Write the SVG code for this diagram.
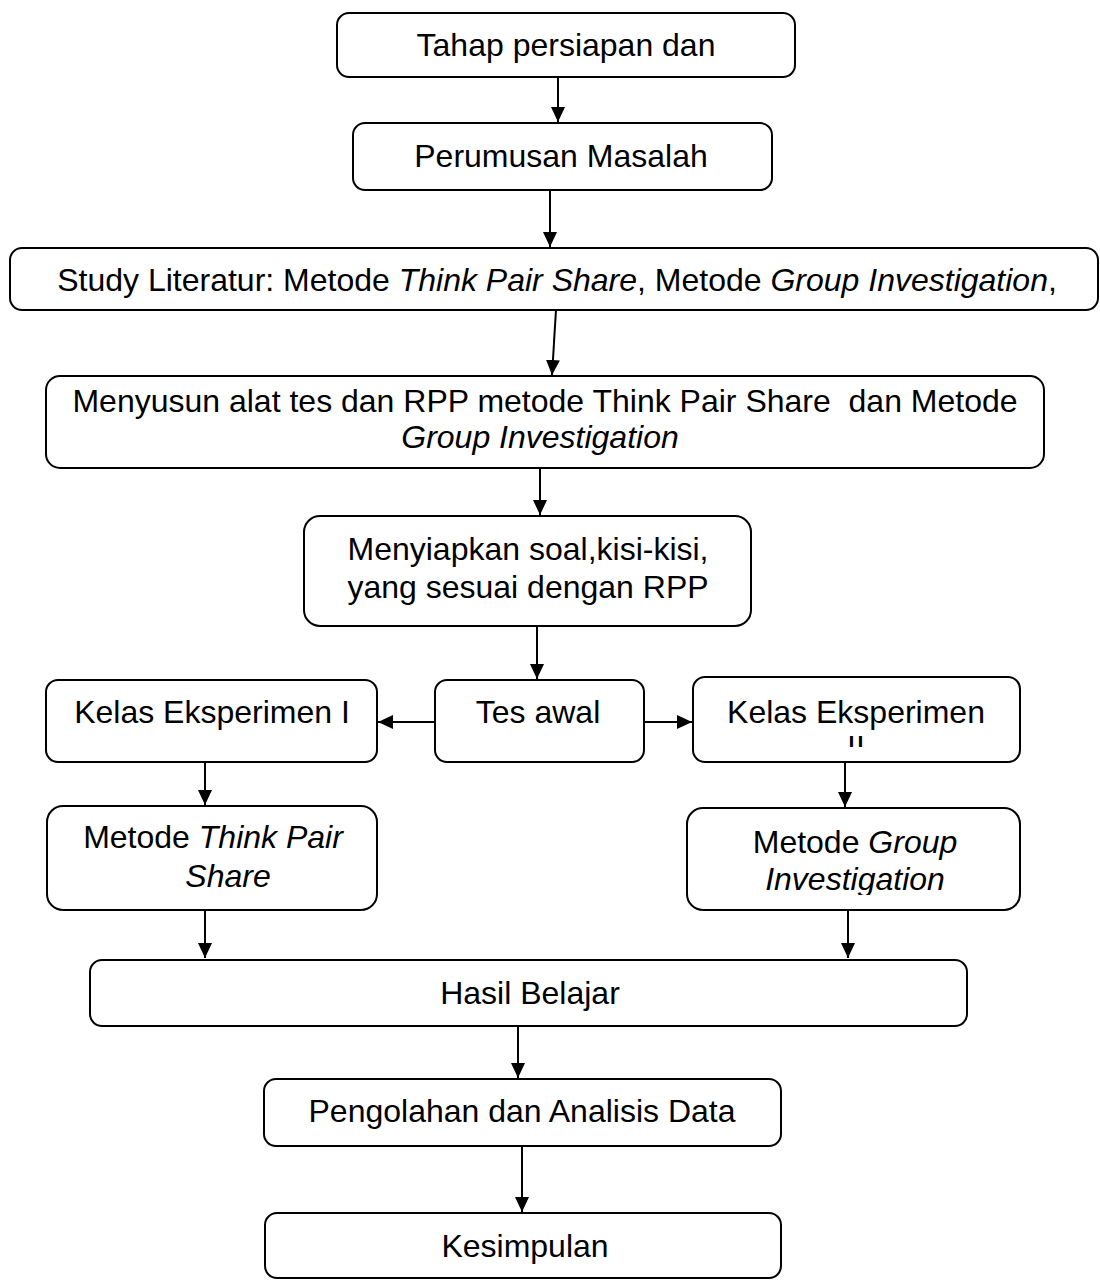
<svg xmlns="http://www.w3.org/2000/svg" width="1100" height="1280" viewBox="0 0 1100 1280">
<style>
.box{fill:#fff;stroke:#000;stroke-width:2}
.t{font-family:"Liberation Sans",Arial,sans-serif;font-size:32px;fill:#000;text-anchor:middle}
.i{font-style:italic}
.c{stroke:#000;stroke-width:2;fill:none;marker-end:url(#ah)}
</style>
<defs>
<marker id="ah" markerUnits="userSpaceOnUse" markerWidth="16" markerHeight="14" refX="15" refY="7" orient="auto">
<path d="M0,0 L15,7 L0,14 Z" fill="#000"/>
</marker>
<clipPath id="clipK2"><rect x="693" y="677" width="327" height="70"/></clipPath>
<clipPath id="clipGI"><rect x="687" y="808" width="333" height="87"/></clipPath>
</defs>
<rect width="1100" height="1280" fill="#fff"/>
<g id="n1"><rect class="box" x="337" y="13" width="458" height="64" rx="12"/><text class="t" x="566" y="56">Tahap persiapan dan</text></g>
<g id="n2"><rect class="box" x="353" y="123" width="419" height="67" rx="12"/><text class="t" x="561" y="167">Perumusan Masalah</text></g>
<g id="n3"><rect class="box" x="10" y="248" width="1088" height="62" rx="12"/><text class="t" x="557" y="291">Study Literatur: Metode <tspan class="i">Think Pair Share</tspan>, Metode <tspan class="i">Group Investigation</tspan>,</text></g>
<g id="n4"><rect class="box" x="46" y="376" width="998" height="92" rx="14"/><text class="t" x="545" y="412" xml:space="preserve">Menyusun alat tes dan RPP metode Think Pair Share  dan Metode</text><text class="t i" x="540" y="448">Group Investigation</text></g>
<g id="n5"><rect class="box" x="304" y="516" width="447" height="110" rx="16"/><text class="t" x="528" y="560">Menyiapkan soal,kisi-kisi,</text><text class="t" x="528" y="598">yang sesuai dengan RPP</text></g>
<g id="n6"><rect class="box" x="435" y="680" width="209" height="82" rx="12"/><text class="t" x="538" y="723">Tes awal</text></g>
<g id="n7"><rect class="box" x="46" y="680" width="331" height="82" rx="12"/><text class="t" x="212" y="723">Kelas Eksperimen I</text></g>
<g id="n8"><rect class="box" x="693" y="677" width="327" height="85" rx="12"/><g clip-path="url(#clipK2)"><text class="t" x="856" y="723">Kelas Eksperimen</text><text class="t" x="856" y="758">II</text></g></g>
<g id="n9"><rect class="box" x="47" y="806" width="330" height="104" rx="16"/><text class="t" x="213" y="848">Metode <tspan class="i">Think Pair</tspan></text><text class="t i" x="228" y="887">Share</text></g>
<g id="n10"><rect class="box" x="687" y="808" width="333" height="102" rx="16"/><g clip-path="url(#clipGI)"><text class="t" x="855" y="853">Metode <tspan class="i">Group</tspan></text><text class="t i" x="855" y="890">Investigation</text></g></g>
<g id="n11"><rect class="box" x="90" y="960" width="877" height="66" rx="12"/><text class="t" x="530" y="1004">Hasil Belajar</text></g>
<g id="n12"><rect class="box" x="264" y="1079" width="517" height="67" rx="12"/><text class="t" x="522" y="1122">Pengolahan dan Analisis Data</text></g>
<g id="n13"><rect class="box" x="265" y="1213" width="516" height="65" rx="12"/><text class="t" x="525" y="1257">Kesimpulan</text></g>
<g id="connectors">
<path class="c" d="M558,77 L558,122"/>
<path class="c" d="M550,190 L550,247"/>
<path class="c" d="M556,310 L552,375"/>
<path class="c" d="M540,468 L540,515"/>
<path class="c" d="M537,626 L537,679"/>
<path class="c" d="M435,722 L378,722"/>
<path class="c" d="M644,722 L692,722"/>
<path class="c" d="M205,762 L205,805"/>
<path class="c" d="M845,762 L845,807"/>
<path class="c" d="M205,910 L205,958"/>
<path class="c" d="M848,910 L848,958"/>
<path class="c" d="M518,1026 L518,1078"/>
<path class="c" d="M522,1146 L522,1212"/>
</g>
</svg>
